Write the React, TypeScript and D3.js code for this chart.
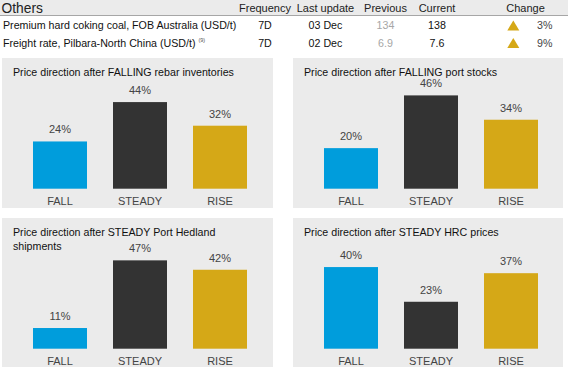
import React from "react";
import * as d3 from "d3";

const headerCols = ["Frequency", "Last update", "Previous", "Current", "Change"];
const rowNames = ["Premium hard coking coal, FOB Australia (USD/t)", "Freight rate, Pilbara-North China (USD/t)"];
const rowNotes = ["", "(9)"];
const rowFreq = ["7D", "7D"];
const rowUpdate = ["03 Dec", "02 Dec"];
const rowPrev = ["134", "6.9"];
const rowCurr = ["138", "7.6"];
const rowChange = ["3%", "9%"];

const categories = ["FALL", "STEADY", "RISE"];
const panelTitles = [
  ["Price direction after FALLING rebar inventories"],
  ["Price direction after FALLING port stocks"],
  ["Price direction after STEADY Port Hedland", "shipments"],
  ["Price direction after STEADY HRC prices"],
];
const panelValues = [
  [24, 44, 32],
  [20, 46, 34],
  [11, 47, 42],
  [40, 23, 37],
];
const panelYMax = [50.8, 49.3, 53.2, 49];

const W = 568;
const H = 377;
const FONT = "Arial, 'Liberation Sans', sans-serif";
const colors = d3.scaleOrdinal<string, string>().domain(categories).range(["#009ddc", "#333333", "#d5a817"]);

const panelPos = [
  { x: 2, y: 58, w: 271, h: 150 },
  { x: 293, y: 58, w: 270, h: 150 },
  { x: 2, y: 218, w: 271, h: 149 },
  { x: 293, y: 218, w: 270, h: 149 },
];

const colCenters = [265, 325.5, 385.5, 437];

function Panel({ i }: { i: number }) {
  const p = panelPos[i];
  const x = d3.scaleBand<string>().domain(categories).range([p.x + 18, p.x + 258]).paddingInner(0.325).paddingOuter(0.1625);
  const bottom = p.y + 130.7;
  const y = d3.scaleLinear().domain([0, panelYMax[i]]).range([bottom, bottom - 100]);
  return (
    <g>
      <rect x={p.x} y={p.y} width={p.w} height={p.h} fill="#ebebeb" />
      {panelTitles[i].map((t, k) => (
        <text key={k} x={p.x + 11} y={p.y + 18 + k * 13.5} fontSize={10.67} fill="#111" fontFamily={FONT}>
          {t}
        </text>
      ))}
      {categories.map((c, k) => {
        const v = panelValues[i][k];
        const bx = x(c)!;
        return (
          <g key={c}>
            <rect x={bx} y={y(v)} width={x.bandwidth()} height={bottom - y(v)} fill={colors(c)} />
            <text x={bx + x.bandwidth() / 2} y={y(v) - 8} textAnchor="middle" fontSize={11} fill="#444" fontFamily={FONT}>
              {v}%
            </text>
            <text x={bx + x.bandwidth() / 2} y={bottom + 16.3} textAnchor="middle" fontSize={11} fill="#444" fontFamily={FONT}>
              {c}
            </text>
          </g>
        );
      })}
    </g>
  );
}

export default function App() {
  const rowBase = [29, 46.5];
  return (
    <svg width={W} height={H} style={{ position: "absolute", left: 0, top: 0, background: "#fff" }} fontFamily={FONT}>
      <rect x={0} y={0} width={W} height={15} fill="#ebebeb" />
      <rect x={0} y={15} width={W} height={1} fill="#a6a6a6" />
      <text x={1.5} y={13} fontSize={13.8} fill="#222">Others</text>
      {headerCols.slice(0, 4).map((h, k) => (
        <text key={h} x={colCenters[k]} y={12} textAnchor="middle" fontSize={11} fill="#222">{h}</text>
      ))}
      <text x={525.5} y={12} textAnchor="middle" fontSize={11} fill="#222">{headerCols[4]}</text>
      {rowNames.map((n, r) => {
        const b = rowBase[r];
        return (
          <g key={n}>
            <text x={3} y={b} fontSize={10.67} fill="#111">
              {n}
              {rowNotes[r] ? <tspan fontSize={5.5} dy={-4.5} dx={3} fill="#555">{rowNotes[r]}</tspan> : null}
            </text>
            <text x={colCenters[0]} y={b} textAnchor="middle" fontSize={10.67} fill="#111">{rowFreq[r]}</text>
            <text x={colCenters[1]} y={b} textAnchor="middle" fontSize={10.67} fill="#111">{rowUpdate[r]}</text>
            <text x={colCenters[2]} y={b} textAnchor="middle" fontSize={10.67} fill="#a6a6a6">{rowPrev[r]}</text>
            <text x={colCenters[3]} y={b} textAnchor="middle" fontSize={10.67} fill="#111">{rowCurr[r]}</text>
            <path d={`M507.3,${b + 1.5} L519.3,${b + 1.5} L513.3,${b - 8.5} Z`} fill="#d5a817" />
            <text x={552.5} y={b} textAnchor="end" fontSize={10.67} fill="#444">{rowChange[r]}</text>
          </g>
        );
      })}
      {panelPos.map((_, i) => (
        <Panel key={i} i={i} />
      ))}
    </svg>
  );
}
